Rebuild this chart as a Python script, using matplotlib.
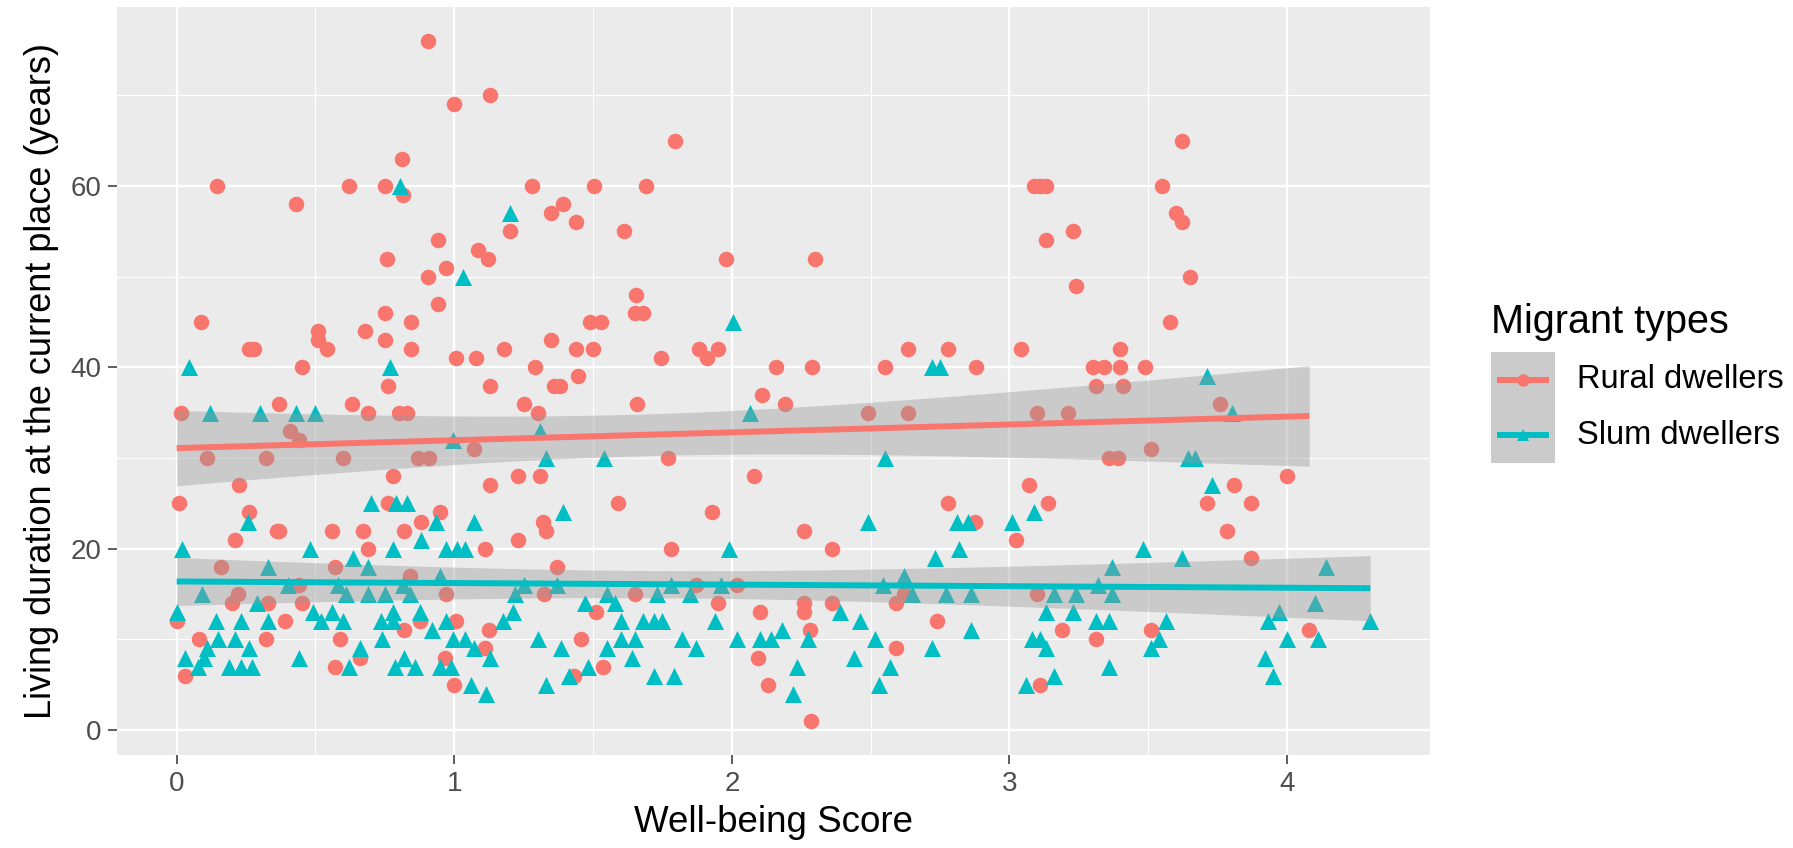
import numpy as np
import matplotlib
matplotlib.use("Agg")
import matplotlib.pyplot as plt
from matplotlib.patches import Rectangle
from matplotlib.lines import Line2D

plt.rcParams['font.family'] = ['Liberation Sans', 'DejaVu Sans']

# ---------------- data ----------------
rural_x = [0.905, 1.0, 1.13, 0.81, 0.144, 0.62, 0.75, 0.815, 0.43, 1.28, 1.35, 1.20, 0.94, 1.085, 1.12,
           0.757, 0.97, 0.905, 0.94, 0.087, 0.75, 0.845, 0.51, 0.51, 0.54, 0.26, 0.28, 0.68, 0.75, 0.845,
           1.006, 1.08, 1.18, 0.45, 1.29, 0.76, 1.13, 1.35, 1.36,
           1.794, 1.503, 1.69, 1.39, 1.44, 1.61, 1.98, 2.30, 1.655, 1.65, 1.68, 1.49, 1.53, 1.44, 1.50,
           1.745, 1.88, 1.91, 1.95, 2.16, 2.29, 2.55, 2.635, 2.78, 2.88, 1.38, 1.445, 2.11, 1.66,
           3.62, 3.09, 3.11, 3.13, 3.55, 3.60, 3.62, 3.23, 3.13, 3.65, 3.24, 3.58, 3.04, 3.40,
           3.30, 3.34, 3.40, 3.49, 3.31, 3.41,
           0.015, 0.37, 0.63, 0.69, 0.80, 0.83, 1.25, 1.30, 0.41, 0.44, 0.11, 0.32, 0.60, 0.87, 0.91,
           1.07, 0.78, 1.13, 1.23, 1.31, 0.226, 0.007, 0.26, 0.76, 0.95, 0.88, 0.36, 0.37, 0.56, 0.67,
           0.82, 1.32, 1.33, 0.21, 1.23, 0.69, 1.11, 0.16, 0.57, 0.84, 0.44, 0.22, 0.20, 0.33, 0.45,
           0.97, 0.0, 0.39, 0.875, 1.006, 0.08, 0.32, 0.82, 1.125, 0.59, 1.11, 0.66, 0.57, 0.965, 0.03, 1.0,
           2.19, 2.49, 2.635, 1.77, 2.08, 1.59, 1.93, 2.78, 2.875, 2.26, 1.78, 2.36, 1.37, 1.87, 2.02,
           1.325, 1.65, 1.95, 2.26, 2.26, 2.36, 2.59, 2.62, 1.51, 2.10, 2.74, 2.28, 1.455, 2.59, 2.095,
           1.535, 1.43, 2.13, 2.285,
           3.10, 3.21, 3.76, 3.36, 3.39, 3.51, 4.0, 3.07, 3.81, 3.14, 3.71, 3.87, 3.025, 3.785, 3.87,
           3.10, 3.19, 3.31, 3.51, 4.08, 3.11]
rural_y = [76, 69, 70, 63, 60, 60, 60, 59, 58, 60, 57, 55, 54, 53, 52,
           52, 51, 50, 47, 45, 46, 45, 44, 43, 42, 42, 42, 44, 43, 42,
           41, 41, 42, 40, 40, 38, 38, 43, 38,
           65, 60, 60, 58, 56, 55, 52, 52, 48, 46, 46, 45, 45, 42, 42,
           41, 42, 41, 42, 40, 40, 40, 42, 42, 40, 38, 39, 37, 36,
           65, 60, 60, 60, 60, 57, 56, 55, 54, 50, 49, 45, 42, 42,
           40, 40, 40, 40, 38, 38,
           35, 36, 36, 35, 35, 35, 36, 35, 33, 32, 30, 30, 30, 30, 30,
           31, 28, 27, 28, 28, 27, 25, 24, 25, 24, 23, 22, 22, 22, 22,
           22, 23, 22, 21, 21, 20, 20, 18, 18, 17, 16, 15, 14, 14, 14,
           15, 12, 12, 12, 12, 10, 10, 11, 11, 10, 9, 8, 7, 8, 6, 5,
           36, 35, 35, 30, 28, 25, 24, 25, 23, 22, 20, 20, 18, 16, 16,
           15, 15, 14, 14, 13, 14, 14, 15, 13, 13, 12, 11, 10, 9, 8,
           7, 6, 5, 1,
           35, 35, 36, 30, 30, 31, 28, 27, 27, 25, 25, 25, 21, 22, 19,
           15, 11, 10, 11, 11, 5]

slum_x = [0.046, 0.77, 0.806, 1.20, 1.03, 2.004, 2.72, 2.75, 3.71,
          0.12, 0.30, 0.43, 0.50, 0.995, 1.31, 1.33, 0.70, 0.79, 0.83, 0.256, 0.935, 1.07, 0.88, 0.02,
          0.48, 0.78, 0.97, 1.01, 1.04, 0.635, 0.33, 0.69, 0.95, 0.40, 0.58, 0.815, 1.25, 0.09, 0.61,
          0.69, 0.75, 0.84, 1.22, 0.29, 0.0, 0.49, 0.56, 0.78, 0.875, 1.21, 0.14, 0.23, 0.33, 0.52,
          0.60, 0.735, 0.78, 0.97, 1.175, 0.92, 0.15, 0.21, 0.74, 0.995, 1.04, 1.30, 0.26, 0.11, 0.66,
          1.07, 0.03, 0.10, 0.44, 1.13, 0.076, 0.19, 0.23, 0.27, 0.62, 0.785, 0.82, 0.86, 0.95, 0.99,
          1.06, 1.115, 1.33,
          2.064, 1.54, 2.55, 1.39, 2.49, 2.81, 2.85, 1.99, 2.82, 2.73, 2.62, 1.37, 1.78, 1.96, 2.545,
          1.55, 1.73, 1.85, 2.65, 2.77, 2.86, 1.47, 1.58, 2.39, 1.60, 1.68, 1.72, 1.75, 1.94, 2.46,
          2.18, 1.60, 1.65, 1.82, 2.02, 2.10, 2.14, 2.275, 2.515, 2.86, 1.385, 1.55, 1.87, 2.72, 1.64,
          2.44, 1.48, 1.415, 2.235, 2.57, 1.72, 1.79, 2.53, 2.22,
          3.80, 3.645, 3.67, 3.73, 3.01, 3.09, 3.48, 3.62, 3.37, 4.14, 3.32, 3.16, 3.24, 3.37, 4.10,
          3.13, 3.23, 3.97, 3.31, 3.36, 3.565, 3.93, 4.30, 3.08, 3.11, 3.13, 3.54, 3.51, 4.0, 4.11,
          3.92, 3.36, 3.16, 3.06, 3.95]
slum_y = [40, 40, 60, 57, 50, 45, 40, 40, 39,
          35, 35, 35, 35, 32, 33, 30, 25, 25, 25, 23, 23, 23, 21, 20,
          20, 20, 20, 20, 20, 19, 18, 18, 17, 16, 16, 16, 16, 15, 15,
          15, 15, 15, 15, 14, 13, 13, 13, 13, 13, 13, 12, 12, 12, 12,
          12, 12, 12, 12, 12, 11, 10, 10, 10, 10, 10, 10, 9, 9, 9,
          9, 8, 8, 8, 8, 7, 7, 7, 7, 7, 7, 8, 7, 7, 7,
          5, 4, 5,
          35, 30, 30, 24, 23, 23, 23, 20, 20, 19, 17, 16, 16, 16, 16,
          15, 15, 15, 15, 15, 15, 14, 14, 13, 12, 12, 12, 12, 12, 12,
          11, 10, 10, 10, 10, 10, 10, 10, 10, 11, 9, 9, 9, 9, 8,
          8, 7, 6, 7, 7, 6, 6, 5, 4,
          35, 30, 30, 27, 23, 24, 20, 19, 18, 18, 16, 15, 15, 15, 14,
          13, 13, 13, 12, 12, 12, 12, 12, 10, 10, 9, 10, 9, 10, 10,
          8, 7, 6, 5, 6]

groups = ["Rural dwellers", "Slum dwellers"]
colors = ["#F8766D", "#00BFC4"]
markers = ["o", "^"]
x_ticks = [0, 1, 2, 3, 4]
y_ticks = [0, 20, 40, 60]

# ---------------- figure ----------------
W, H = 1793, 848
fig = plt.figure(figsize=(W / 100, H / 100), dpi=100)
fig.patch.set_facecolor("white")

def fx(px):
    return px / W

def fy(py):
    return 1 - py / H

ax = fig.add_axes([fx(117), fy(755), fx(1430) - fx(117), fy(7) - fy(755)])
ax.set_facecolor("#EBEBEB")
for s in ax.spines.values():
    s.set_visible(False)

xmin, xmax = 0.0, 4.3
ymin, ymax = 1, 76
ax.set_xlim(xmin - 0.05 * (xmax - xmin), xmax + 0.05 * (xmax - xmin))
ax.set_ylim(ymin - 0.05 * (ymax - ymin), ymax + 0.05 * (ymax - ymin))

ax.set_xticks(x_ticks)
ax.set_yticks(y_ticks)
ax.set_xticks([0.5, 1.5, 2.5, 3.5], minor=True)
ax.set_yticks([10, 30, 50, 70], minor=True)
ax.grid(which="major", color="white", linewidth=1.7)
ax.grid(which="minor", color="white", linewidth=0.85)
ax.set_axisbelow(True)
ax.tick_params(which="major", length=6.5, width=1.1, color="#333333",
               labelsize=20, labelcolor="#4D4D4D", pad=5)
ax.tick_params(which="minor", length=0)

datasets = [(rural_x, rural_y), (slum_x, slum_y)]

for (xs, ys), c, m in zip(datasets, colors, markers):
    xs = np.asarray(xs, float)
    ys = np.asarray(ys, float)
    size = 125 if m == "o" else 150
    ax.scatter(xs, ys, s=size, c=c, marker=m, linewidths=0, zorder=2)

for (xs, ys), c in zip(datasets, colors):
    xs = np.asarray(xs, float)
    ys = np.asarray(ys, float)
    n = len(xs)
    b1, b0 = np.polyfit(xs, ys, 1)
    resid = ys - (b0 + b1 * xs)
    sres = np.sqrt(np.sum(resid ** 2) / (n - 2))
    xbar = xs.mean()
    sxx = np.sum((xs - xbar) ** 2)
    xg = np.linspace(xs.min(), xs.max(), 80)
    yg = b0 + b1 * xg
    se = sres * np.sqrt(1.0 / n + (xg - xbar) ** 2 / sxx)
    t = 1.97
    ax.fill_between(xg, yg - t * se, yg + t * se, color="#999999", alpha=0.4,
                    linewidth=0, zorder=3)
    ax.plot(xg, yg, color=c, linewidth=4.3, zorder=4, solid_capstyle="butt")

ax.set_xlabel("Well-being Score", fontsize=26.5, color="black", labelpad=6)
ax.set_ylabel("Living duration at the current place (years)", fontsize=26,
              color="black", labelpad=8)

# ---------------- legend ----------------
fig.text(fx(1491), fy(333), "Migrant types", fontsize=28.5, color="black",
         ha="left", va="baseline")
key_top = 352
key_h = 55.5
for i, (g, c, m) in enumerate(zip(groups, colors, markers)):
    top = key_top + i * key_h
    fig.add_artist(Rectangle((fx(1491), fy(top + key_h)), fx(1555) - fx(1491),
                             fy(top) - fy(top + key_h), transform=fig.transFigure,
                             facecolor="#CBCBCB", edgecolor="none"))
    cy = top + key_h / 2
    fig.add_artist(Line2D([fx(1497), fx(1549)], [fy(cy), fy(cy)], transform=fig.transFigure,
                          color=c, linewidth=4.3, solid_capstyle="butt"))
    fig.add_artist(Line2D([fx(1523)], [fy(cy)], transform=fig.transFigure, color=c,
                          marker=m, markersize=9, linestyle="none", markeredgewidth=0))
    fig.text(fx(1577), fy(cy), g, fontsize=23.5, color="black", ha="left", va="center")

fig.savefig("out.png", dpi=100, facecolor="white")
